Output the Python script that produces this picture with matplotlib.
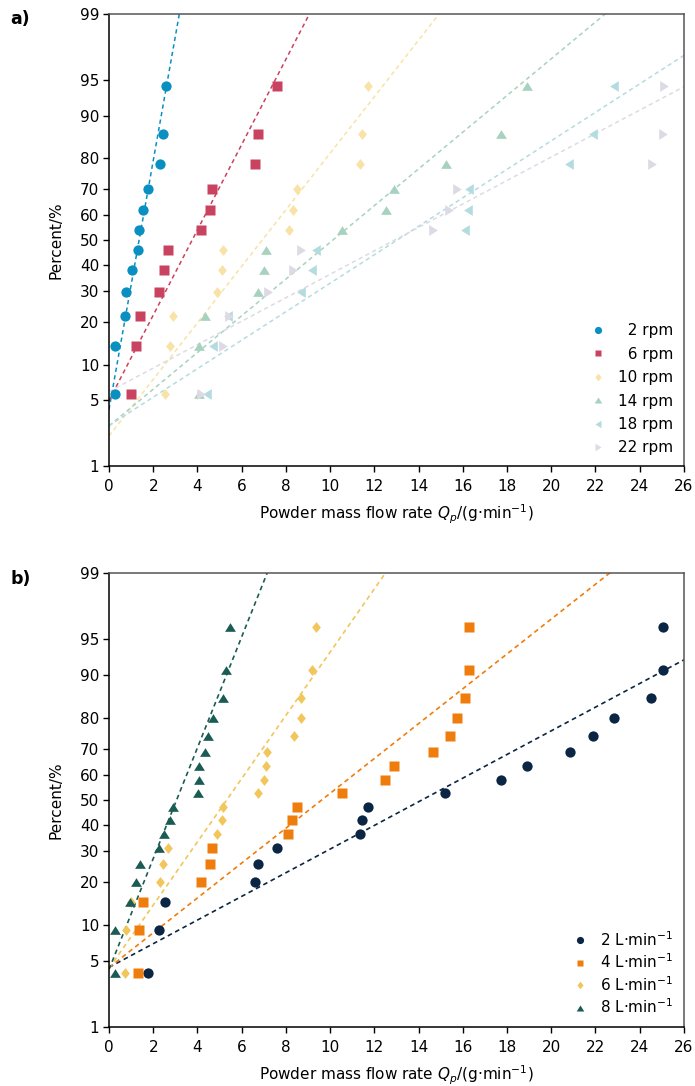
import numpy as np
import matplotlib
matplotlib.use("Agg")
import matplotlib.pyplot as plt
from matplotlib.ticker import FixedLocator
from statistics import NormalDist

plt.rcParams['font.family'] = ['DejaVu Sans']
plt.rcParams['mathtext.fontset'] = 'dejavusans'

# ---- panel a: screw speed ----
pct_a = [5.6, 13.7, 21.8, 29.8, 37.9, 46.0, 54.0, 62.1, 70.2, 78.2, 86.3, 94.4]
rpm_labels = ['  2 rpm', '  6 rpm', '10 rpm', '14 rpm', '18 rpm', '22 rpm']
rpm_2 = [0.29, 0.29, 0.74, 0.77, 1.03, 1.30, 1.37, 1.52, 1.78, 2.31, 2.46, 2.56]
rpm_6 = [1.01, 1.22, 1.42, 2.28, 2.49, 2.69, 4.16, 4.58, 4.67, 6.62, 6.76, 7.60]
rpm_10 = [2.52, 2.78, 2.91, 4.87, 5.10, 5.14, 8.14, 8.31, 8.49, 11.36, 11.43, 11.73]
rpm_14 = [4.09, 4.09, 4.33, 6.76, 7.01, 7.09, 10.53, 12.52, 12.91, 15.22, 17.72, 18.91]
rpm_18 = [4.45, 4.72, 5.37, 8.69, 9.17, 9.38, 16.09, 16.23, 16.30, 20.81, 21.87, 22.82]
rpm_22 = [4.14, 5.14, 5.43, 7.18, 8.34, 8.69, 14.65, 15.37, 15.73, 24.56, 25.05, 25.08]
# fitted probit lines: z = intercept + slope * Q
fit_a_int = [-1.745, -1.652, -2.017, -1.914, -1.911, -1.560]
fit_a_slope = [1.280, 0.439, 0.291, 0.189, 0.1466, 0.1207]

# ---- panel b: carrier gas flow ----
pct_b = [3.8, 9.2, 14.7, 20.1, 25.5, 31.0, 36.4, 41.8, 47.3, 52.7, 58.2, 63.6,
         69.0, 74.5, 79.9, 85.3, 90.8, 96.2]
gas_labels = ['2 L·min$^{-1}$', '4 L·min$^{-1}$', '6 L·min$^{-1}$', '8 L·min$^{-1}$']
gas_2 = [1.78, 2.28, 2.55, 6.61, 6.73, 7.59, 11.36, 11.43, 11.73, 15.20, 17.72, 18.91,
         20.83, 21.89, 22.84, 24.52, 25.04, 25.07]
gas_4 = [1.33, 1.37, 1.52, 4.16, 4.58, 4.67, 8.11, 8.29, 8.51, 10.53, 12.50, 12.91,
         14.63, 15.40, 15.72, 16.12, 16.26, 16.30]
gas_6 = [0.74, 0.75, 1.01, 2.29, 2.46, 2.67, 4.87, 5.10, 5.14, 6.76, 7.01, 7.09,
         7.16, 8.36, 8.67, 8.69, 9.17, 9.35]
gas_8 = [0.27, 0.29, 0.97, 1.22, 1.42, 2.28, 2.50, 2.77, 2.91, 4.04, 4.09, 4.09,
         4.33, 4.49, 4.72, 5.14, 5.29, 5.46]
fit_b_int = [-1.715, -1.718, -1.725, -1.737]
fit_b_slope = [0.1212, 0.1786, 0.324, 0.568]

yticks = [1, 5, 10, 20, 30, 40, 50, 60, 70, 80, 90, 95, 99]
xticks = list(range(0, 27, 2))

colors_a = ['#0a8fc1', '#c9425f', '#f8e2a6', '#a6d2bf', '#b4dce0', '#dddae5']
colors_b = ['#0b2545', '#ef7d0d', '#f1c65a', '#1a5c53']

nd = NormalDist()
tri_up = [(-1, -0.8), (1, -0.8), (0, 0.8)]
tri_left = [(-0.8, 0), (0.8, 1), (0.8, -1)]
tri_right = [(0.8, 0), (-0.8, 1), (-0.8, -1)]
diamond = [(0, 1), (0.8, 0), (0, -1), (-0.8, 0)]
markers_a = ['o', 's', diamond, tri_up, tri_left, tri_right]
markers_b = ['o', 's', diamond, tri_up]
msize = {'o': 7.4, 's': 6.8}


def fwd(p):
    p = np.clip(np.asarray(p, dtype=float) / 100.0, 1e-10, 1 - 1e-10)
    return np.vectorize(nd.inv_cdf, otypes=[float])(p)


def inv(z):
    return np.vectorize(nd.cdf, otypes=[float])(np.asarray(z, dtype=float)) * 100.0


def style_axes(ax):
    ax.set_yscale('function', functions=(fwd, inv))
    ax.set_ylim(1, 99)
    ax.set_xlim(0, 26)
    ax.yaxis.set_major_locator(FixedLocator(yticks))
    ax.yaxis.set_minor_locator(FixedLocator([]))
    ax.set_yticklabels([str(t) for t in yticks])
    ax.set_xticks(xticks)
    ax.tick_params(direction='out', length=4.5, width=1, labelsize=11)
    ax.tick_params(axis='y', pad=2.5)
    ax.tick_params(axis='x', pad=5)
    for s in ['left', 'bottom']:
        ax.spines[s].set_color('black')
        ax.spines[s].set_linewidth(1.1)
    for s in ['top', 'right']:
        ax.spines[s].set_color('#555555')
        ax.spines[s].set_linewidth(1.1)
    ax.set_xlabel('Powder mass flow rate $Q_p$/(g·min$^{-1}$)', fontsize=11, labelpad=6)
    ax.set_ylabel('Percent/%', fontsize=11, labelpad=12)


fig = plt.figure(figsize=(6.95, 10.86), dpi=100)
ax1 = fig.add_axes([0.1568, 0.5709, 0.8273, 0.4162])
ax2 = fig.add_axes([0.1568, 0.0543, 0.8273, 0.4181])

xs = np.linspace(0, 26, 400)

series_a = [rpm_2, rpm_6, rpm_10, rpm_14, rpm_18, rpm_22]
for i, q in enumerate(series_a):
    ax1.plot(xs, inv(fit_a_int[i] + fit_a_slope[i] * xs), color=colors_a[i],
             lw=1.1, dashes=(2.8, 2.2), zorder=2)
for i, q in enumerate(series_a):
    m = markers_a[i]
    ax1.plot(q, pct_a, linestyle='none', marker=m,
             ms=msize.get(m, 7.8) if isinstance(m, str) else 7.8,
             color=colors_a[i], mec='none', label=rpm_labels[i], zorder=3)

series_b = [gas_2, gas_4, gas_6, gas_8]
for i, q in enumerate(series_b):
    ax2.plot(xs, inv(fit_b_int[i] + fit_b_slope[i] * xs), color=colors_b[i],
             lw=1.2, dashes=(2.8, 2.2), zorder=2)
for i, q in enumerate(series_b):
    m = markers_b[i]
    ax2.plot(q, pct_b, linestyle='none', marker=m,
             ms=msize.get(m, 7.8) if isinstance(m, str) else 7.8,
             color=colors_b[i], mec='none', label=gas_labels[i], zorder=3)

for ax, spacing in ((ax1, 0.55), (ax2, 0.25)):
    style_axes(ax)
    ax.legend(loc='lower right', frameon=False, fontsize=11, markerscale=0.7,
              handlelength=1.0, handletextpad=0.8, labelspacing=spacing,
              borderaxespad=0.3)

fig.text(0.015, 1 - 19 / 1086, 'a)', fontsize=12.5, fontweight='bold', va='center')
fig.text(0.015, 1 - 579 / 1086, 'b)', fontsize=12.5, fontweight='bold', va='center')

fig.savefig('out.png', dpi=100)
